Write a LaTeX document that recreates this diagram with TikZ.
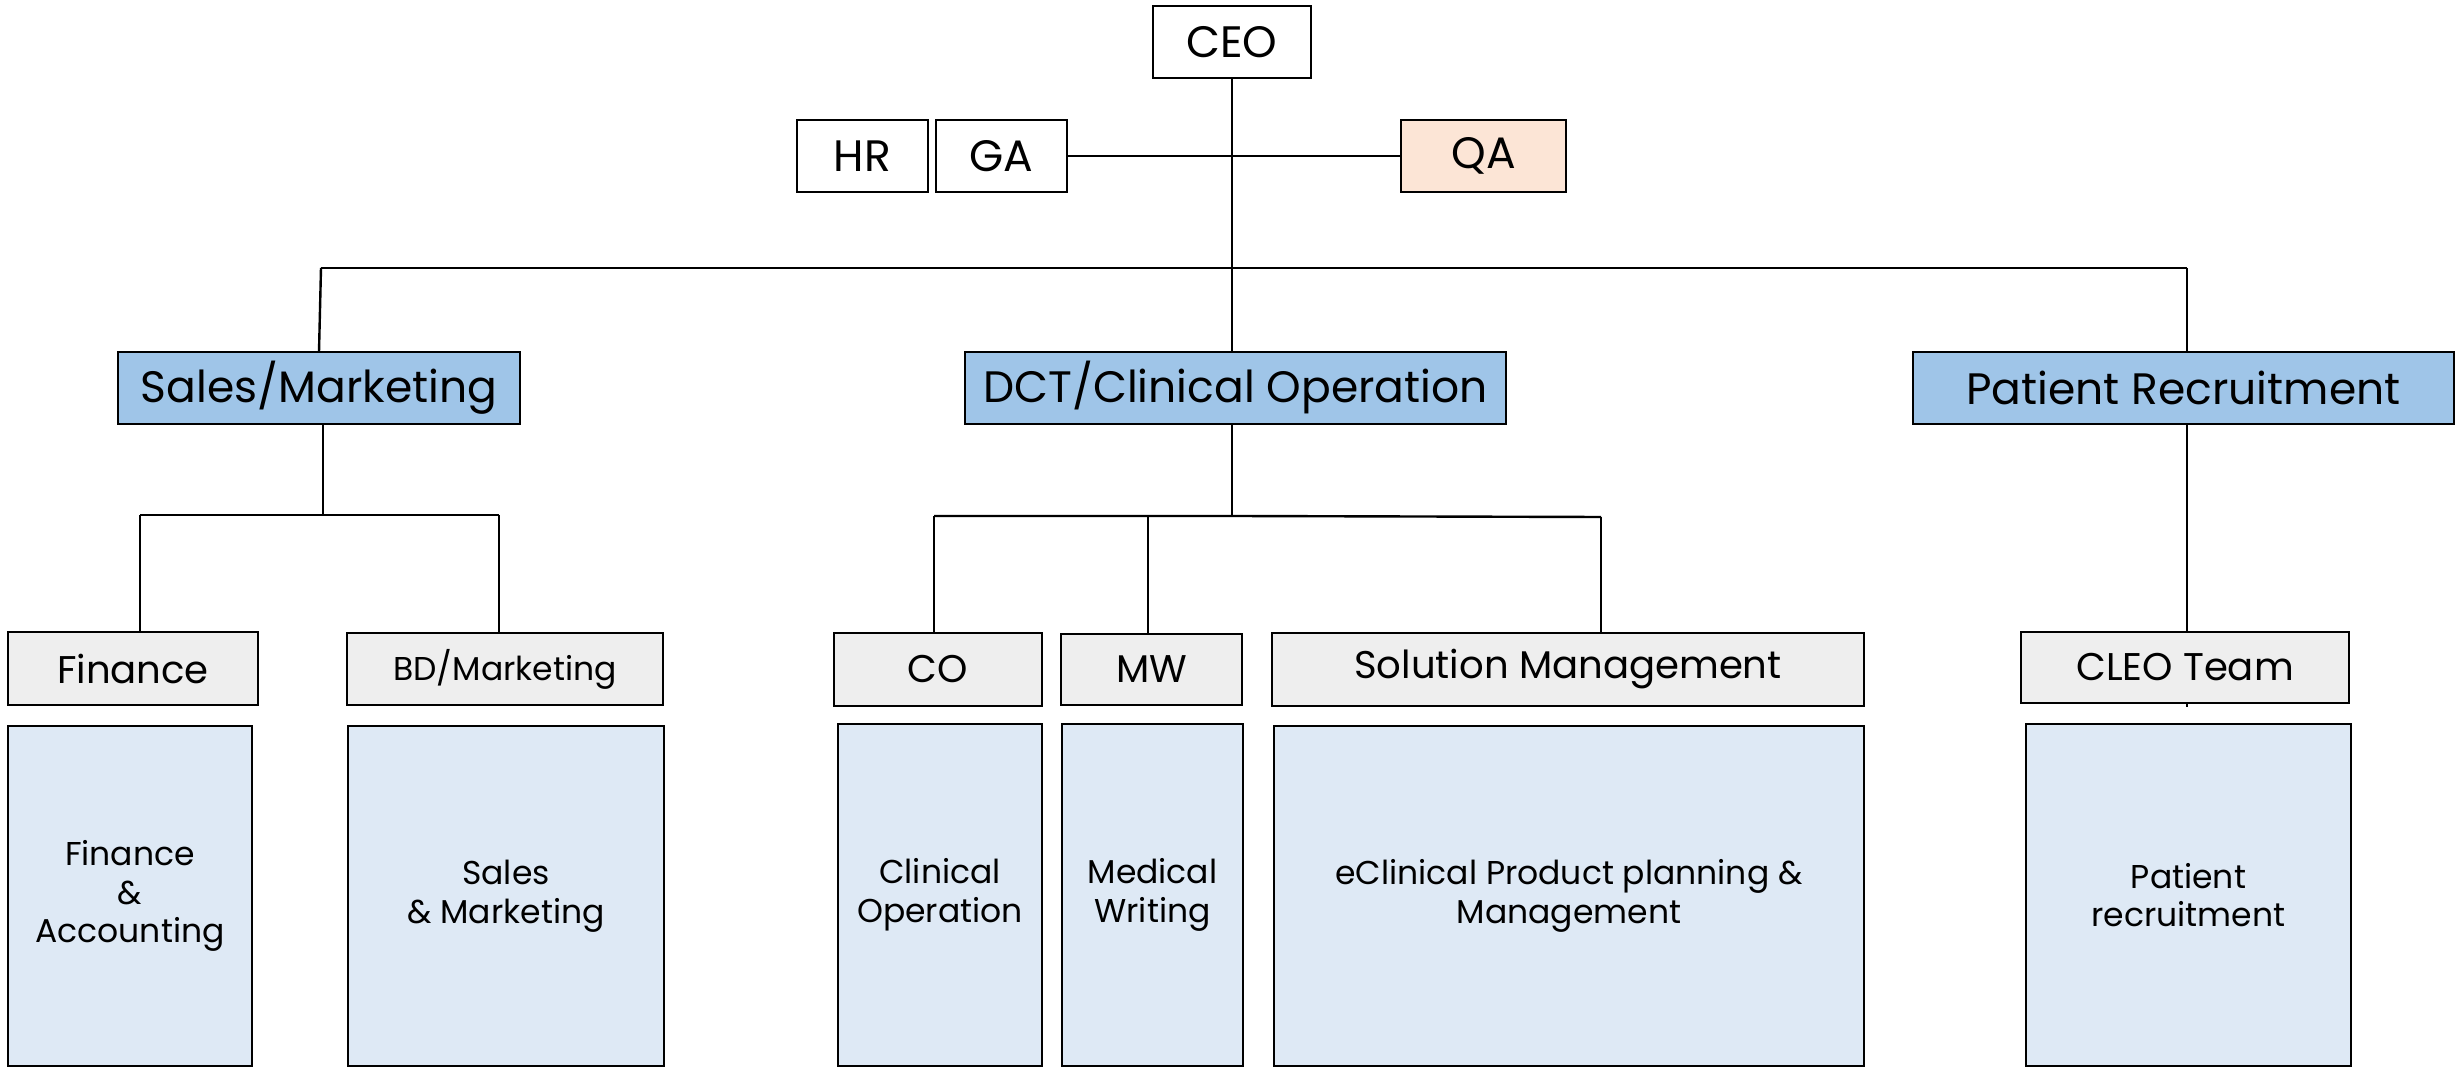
\documentclass[tikz,border=0pt]{standalone}
\usepackage{fontspec}
\setmainfont{Poppins}
\definecolor{hdr}{HTML}{9FC5E8}
\definecolor{sub}{HTML}{EEEEEE}
\definecolor{low}{HTML}{DEE9F5}
\definecolor{qa}{HTML}{FCE5D6}
\newcommand\bx[7]{\node[#6, minimum width={(#4-#2)*0.5pt}, minimum height={(#5-#3)*0.5pt}] (#1) at ({(#2+#4)/2},{(#3+#5)/2}) {#7};}
\tikzset{
  base/.style={draw=black, line width=1.4pt, rectangle, inner sep=0pt, outer sep=0pt, align=center},
  topbox/.style={base, fill=white, font=\fontsize{22}{24}\selectfont},
  qabox/.style={base, fill=qa, font=\fontsize{22}{24}\selectfont},
  hdrbox/.style={base, fill=hdr, font=\fontsize{22}{24}\selectfont},
  subbox/.style={base, fill=sub, font=\fontsize{19.3}{22}\selectfont},
  smallsub/.style={base, fill=sub, font=\fontsize{16.5}{19}\selectfont},
  lowbox/.style={base, fill=low, font=\fontsize{16.5}{19.3}\selectfont},
  conn/.style={line width=1.2pt, draw=black}
}
\begin{document}
\begin{tikzpicture}[x=0.5pt,y=-0.5pt]
\useasboundingbox (0,0) rectangle (2459,1068);
\coordinate (busL) at (321,268);
\coordinate (busR) at (2187,268);
\coordinate (smj) at (323,515);
\coordinate (smL) at (140,515);
\coordinate (smR) at (499,515);
\coordinate (dcj) at (1232,516);
\coordinate (dcL) at (934,516);
\coordinate (dcM) at (1148,516);
\coordinate (dcR) at (1601,517);
% top
\bx{ceo}{1153}{6}{1311}{78}{topbox}{CEO}
\bx{hr}{797}{120}{928}{192}{topbox}{HR}
\bx{ga}{936}{120}{1067}{192}{topbox}{GA}
\bx{qa}{1401}{120}{1566}{192}{qabox}{QA}
% headers
\bx{sm}{118}{352}{520}{424}{hdrbox}{Sales/Marketing}
\bx{dct}{965}{352}{1506}{424}{hdrbox}{DCT/Clinical Operation}
\bx{pr}{1913}{352}{2454}{424}{hdrbox}{Patient Recruitment}
% sub
\bx{fin}{8}{632}{258}{705}{subbox}{Finance}
\bx{bd}{347}{633}{663}{705}{smallsub}{BD/Marketing}
\bx{co}{834}{633}{1042}{706}{subbox}{CO}
\bx{mw}{1061}{634}{1242}{705}{subbox}{MW}
\bx{solm}{1272}{633}{1864}{706}{subbox}{Solution Management}
\bx{cleo}{2021}{632}{2349}{703}{subbox}{CLEO Team}
% low
\bx{fa}{8}{726}{252}{1066}{lowbox}{Finance\\\&\\Accounting}
\bx{sam}{348}{726}{664}{1066}{lowbox}{Sales\\\& Marketing}
\bx{clo}{838}{724}{1042}{1066}{lowbox}{Clinical\\Operation}
\bx{mwr}{1062}{724}{1243}{1066}{lowbox}{Medical\\Writing}
\bx{ecl}{1274}{726}{1864}{1066}{lowbox}{eClinical Product planning \&\\Management}
\bx{prr}{2026}{724}{2351}{1066}{lowbox}{Patient\\recruitment}
% lines
\draw[conn] (ceo.south) -- (ceo.south |- dct.north);
\draw[conn] (ga.east) -- (qa.west);
\draw[conn] (busL) -- (busR);
\draw[conn] (busL) -- (sm.north);
\draw[conn] (busR) -- (pr.north -| busR);
\draw[conn] (sm.south -| smj) -- (smj);
\draw[conn] (smL) -- (smR);
\draw[conn] (smL) -- (fin.north -| smL);
\draw[conn] (smR) -- (bd.north -| smR);
\draw[conn] (dct.south -| dcj) -- (dcj);
\draw[conn] (dcL) -- (dcj) -- (dcR);
\draw[conn] (dcL) -- (co.north -| dcL);
\draw[conn] (dcM) -- (mw.north -| dcM);
\draw[conn] (dcR) -- (solm.north -| dcR);
\draw[conn] (pr.south -| busR) -- (cleo.north -| busR);
\draw[conn] (cleo.south -| busR) -- ++(0,4);
\end{tikzpicture}
\end{document}
